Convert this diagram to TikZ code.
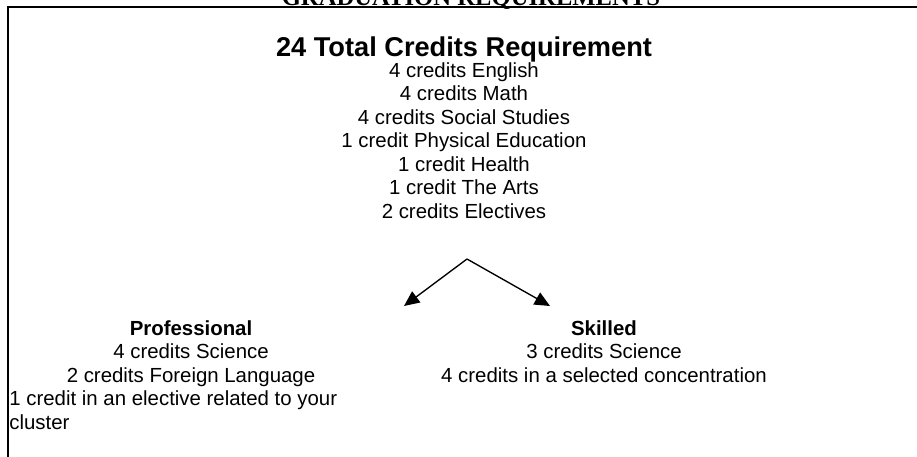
\documentclass[tikz,border=0pt]{standalone}
\usepackage{fontspec}
\setmainfont{Liberation Sans}
\newfontfamily\titleserif{Liberation Serif}
\usetikzlibrary{arrows.meta}
\begin{document}
\begin{tikzpicture}[x=0.588pt,y=-0.588pt,
  txt/.style={inner sep=0pt,anchor=base,font=\fontsize{12}{13.8}\selectfont},
  txtl/.style={inner sep=0pt,anchor=base west,font=\fontsize{12}{13.8}\selectfont},
  head/.style={inner sep=0pt,anchor=base,font=\fontsize{16}{18.4}\selectfont\bfseries},
  subhead/.style={inner sep=0pt,anchor=base,font=\fontsize{12}{13.8}\selectfont\bfseries},
  frame/.style={line width=1.5pt},
  branch/.style={line width=0.8pt,-{Triangle[length=9pt,width=8pt]}}]
\useasboundingbox (0,0) rectangle (917,456);
\clip (0,0) rectangle (917,456);
% cut-off page title
\node[inner sep=0pt,anchor=base,font=\fontsize{14.5}{16}\selectfont\titleserif\bfseries] (pagetitle) at (471,5) {GRADUATION REQUIREMENTS};
% frame
\draw[frame] (8,460) -- (8,7) -- (920,7);
% top block
\node[head] (total) at (464,56.5) {24 Total Credits Requirement};
\node[txt] (eng) at (464,77) {4 credits English};
\node[txt] (math) at (464,100.5) {4 credits Math};
\node[txt] (soc) at (464,124) {4 credits Social Studies};
\node[txt] (pe) at (464,147.5) {1 credit Physical Education};
\node[txt] (health) at (464,171) {1 credit Health};
\node[txt] (arts) at (464,194.5) {1 credit The Arts};
\node[txt] (elect) at (464,218) {2 credits Electives};
% arrows
\coordinate (apex) at (467,259);
\coordinate (lt) at (404,306);
\coordinate (rt) at (550,306);
\draw[branch] (apex) -- (lt);
\draw[branch] (apex) -- (rt);
% professional
\node[subhead] (prof) at (191,335) {Professional};
\node[txt] (psci) at (191,358.5) {4 credits Science};
\node[txt] (plang) at (191,382) {2 credits Foreign Language};
\node[txtl] (pel) at (9,405.5) {1 credit in an elective related to your};
\node[txtl] (pcl) at (9,429) {cluster};
% skilled
\node[subhead] (skill) at (604,335) {Skilled};
\node[txt] (ssci) at (604,358.5) {3 credits Science};
\node[txt] (sconc) at (604,382) {4 credits in a selected concentration};
\end{tikzpicture}
\end{document}
